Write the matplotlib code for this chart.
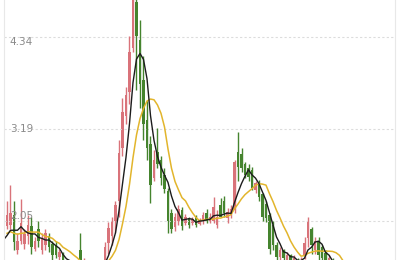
import matplotlib.pyplot as plt
import matplotlib.transforms as mtransforms
import numpy as np
import pandas as pd

# closes before the visible window, only used to warm up the moving averages
prev_close = [1.95, 1.98, 1.92, 1.90, 1.85, 1.82, 1.78, 1.80, 1.80]

opens = [1.98, 2.00, 2.12, 1.68, 1.80, 1.76, 1.86, 1.98, 1.70, 1.95,
         1.68, 1.74, 1.86, 1.76, 1.75, 1.60, 1.64, 1.52, 1.44, 1.50,
         1.42, 1.68, 1.45, 1.50, 1.40, 1.46, 1.40, 1.46, 1.50, 1.77,
         1.86, 2.05, 2.30, 2.95, 3.35, 3.65, 4.20, 4.78, 4.30, 3.80,
         3.30, 3.00, 2.58, 2.90, 2.80, 2.62, 2.42, 2.15, 1.97, 2.05,
         2.18, 2.02, 2.08, 2.02, 2.10, 2.01, 2.04, 2.15, 2.05, 2.05,
         2.00, 2.24, 2.30, 2.08, 2.12, 2.18, 2.90, 2.88, 2.75, 2.71,
         2.68, 2.43, 2.52, 2.38, 2.26, 2.12, 2.00, 1.75, 1.60, 1.68,
         1.55, 1.62, 1.50, 1.56, 1.48, 1.62, 1.83, 1.94, 1.68, 1.80,
         1.72, 1.65, 1.50, 1.56, 1.46, 1.40, 1.44]
highs = [2.30, 2.50, 2.30, 1.90, 2.32, 1.95, 2.12, 2.10, 1.84, 2.05,
         1.90, 1.95, 1.90, 1.80, 1.80, 1.70, 1.66, 1.56, 1.53, 1.52,
         1.52, 1.89, 1.58, 1.52, 1.50, 1.49, 1.50, 1.55, 1.78, 2.03,
         2.10, 2.30, 3.05, 3.58, 3.72, 4.35, 4.98, 5.00, 4.55, 4.10,
         3.55, 3.10, 2.93, 3.20, 2.85, 2.70, 2.46, 2.20, 2.15, 2.25,
         2.22, 2.13, 2.10, 2.09, 2.12, 2.08, 2.16, 2.20, 2.14, 2.35,
         2.18, 2.33, 2.36, 2.21, 2.25, 2.80, 3.15, 2.95, 2.78, 2.75,
         2.72, 2.55, 2.56, 2.40, 2.30, 2.15, 2.05, 1.78, 1.72, 1.70,
         1.66, 1.64, 1.62, 1.58, 1.60, 1.84, 2.09, 1.97, 1.84, 1.84,
         1.74, 1.68, 1.62, 1.58, 1.50, 1.47, 1.46]
lows = [1.95, 1.95, 1.68, 1.64, 1.76, 1.70, 1.76, 1.64, 1.67, 1.72,
        1.64, 1.68, 1.66, 1.55, 1.58, 1.55, 1.48, 1.40, 1.40, 1.38,
        1.38, 1.44, 1.42, 1.36, 1.36, 1.35, 1.37, 1.42, 1.45, 1.64,
        1.74, 1.89, 2.09, 2.85, 3.25, 3.50, 4.15, 3.68, 3.45, 3.05,
        2.80, 2.27, 2.55, 2.70, 2.50, 2.40, 1.89, 1.89, 1.92, 2.00,
        1.93, 2.00, 1.96, 2.00, 1.97, 1.99, 2.01, 2.02, 2.02, 2.02,
        1.96, 2.09, 2.09, 2.02, 2.08, 2.15, 2.55, 2.66, 2.58, 2.55,
        2.43, 2.40, 2.30, 2.05, 2.03, 1.64, 1.68, 1.55, 1.55, 1.52,
        1.50, 1.45, 1.45, 1.42, 1.44, 1.57, 1.72, 1.64, 1.64, 1.55,
        1.52, 1.45, 1.46, 1.40, 1.35, 1.36, 1.32]
closes = [2.12, 2.15, 1.78, 1.80, 2.02, 1.88, 2.00, 1.72, 1.80, 1.80,
          1.82, 1.90, 1.72, 1.62, 1.62, 1.66, 1.52, 1.45, 1.50, 1.42,
          1.48, 1.48, 1.56, 1.42, 1.46, 1.40, 1.47, 1.52, 1.72, 1.96,
          2.05, 2.24, 2.89, 3.40, 3.62, 4.15, 4.80, 4.35, 3.75, 3.25,
          2.95, 2.50, 2.80, 2.75, 2.58, 2.45, 2.05, 1.95, 2.10, 2.20,
          1.98, 2.10, 1.99, 2.07, 2.00, 2.06, 2.12, 2.05, 2.10, 2.22,
          2.10, 2.10, 2.14, 2.16, 2.20, 2.78, 2.72, 2.70, 2.62, 2.60,
          2.46, 2.52, 2.35, 2.10, 2.08, 1.70, 1.75, 1.60, 1.68, 1.58,
          1.62, 1.52, 1.58, 1.48, 1.56, 1.77, 2.03, 1.75, 1.80, 1.62,
          1.58, 1.52, 1.58, 1.45, 1.40, 1.44, 1.36]

tick_values = [4.34, 3.19, 2.05]
tick_labels = ['4.34', '3.19', '2.05']

o = np.array(opens)
h = np.array(highs)
l = np.array(lows)
c = np.array(closes)
x = np.arange(len(c))
colors = np.where(c >= o, '#d9737a', '#45842e')

fig = plt.figure(figsize=(4, 2.6), dpi=100)
ax = fig.add_axes([0.01, 0, 0.9775, 1])

# candles
ax.vlines(x, l, h, colors=colors, linewidth=1)
ax.bar(x, np.maximum(np.abs(c - o), 0.01), bottom=np.minimum(o, c),
       width=0.75, color=colors, linewidth=0)

# moving averages
all_close = pd.Series(prev_close + closes)
xa = np.arange(-len(prev_close), len(closes))
ax.plot(xa, all_close.rolling(10).mean(), color='#e2b52c', lw=1.1)
ax.plot(xa, all_close.rolling(5).mean(), color='#1c1c1c', lw=1.0)

ax.set_xlim(-0.857, 110.857)
ax.set_ylim(1.559, 4.801)

ax.set_yticks(tick_values)
ax.set_xticks([])
ax.yaxis.grid(True, color='#dcdcdc', linestyle=(0, (2, 2)), linewidth=0.8)
ax.tick_params(left=False, labelleft=False)
for side in ['top', 'bottom']:
    ax.spines[side].set_visible(False)
for side in ['left', 'right']:
    ax.spines[side].set_color('#e8e8e8')
    ax.spines[side].set_linewidth(0.8)

trans = mtransforms.blended_transform_factory(ax.transAxes, ax.transData)
aligns = ['top', 'center', 'bottom']
for val, lab, va in zip(tick_values, tick_labels, aligns):
    ax.text(0.015, val, lab, transform=trans, va=va, ha='left',
            fontsize=7.5, color='#8a8a8a')

fig.savefig('out.png', dpi=100)
